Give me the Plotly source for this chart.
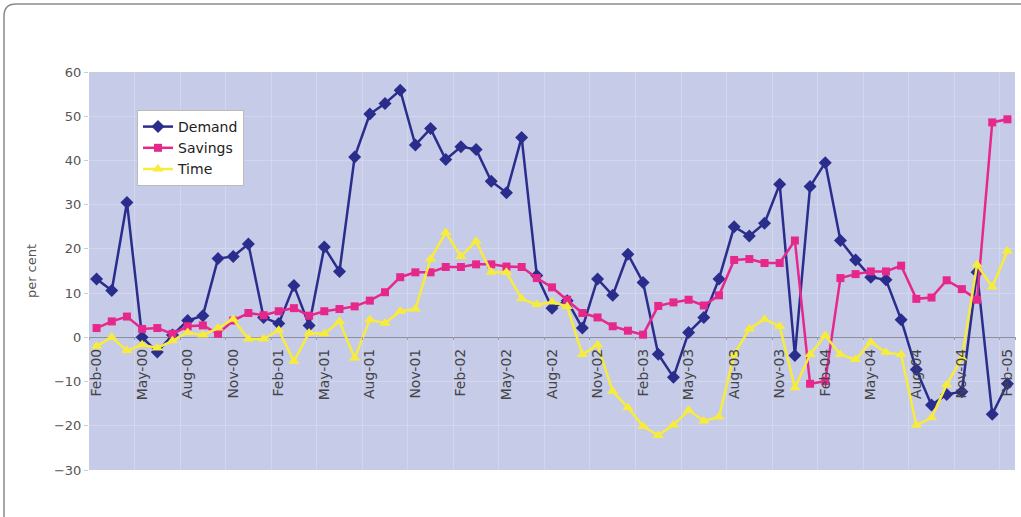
import plotly.graph_objects as go

# Monthly labels, Feb-00 .. Feb-05
months = [
    "Feb-00", "Mar-00", "Apr-00", "May-00", "Jun-00", "Jul-00", "Aug-00", "Sep-00", "Oct-00", "Nov-00", "Dec-00",
    "Jan-01", "Feb-01", "Mar-01", "Apr-01", "May-01", "Jun-01", "Jul-01", "Aug-01", "Sep-01", "Oct-01", "Nov-01", "Dec-01",
    "Jan-02", "Feb-02", "Mar-02", "Apr-02", "May-02", "Jun-02", "Jul-02", "Aug-02", "Sep-02", "Oct-02", "Nov-02", "Dec-02",
    "Jan-03", "Feb-03", "Mar-03", "Apr-03", "May-03", "Jun-03", "Jul-03", "Aug-03", "Sep-03", "Oct-03", "Nov-03", "Dec-03",
    "Jan-04", "Feb-04", "Mar-04", "Apr-04", "May-04", "Jun-04", "Jul-04", "Aug-04", "Sep-04", "Oct-04", "Nov-04", "Dec-04",
    "Jan-05", "Feb-05",
]

demand = [
    13.2, 10.6, 30.5, 0.0, -3.3, 0.5, 3.8, 4.9, 17.8, 18.3, 21.1,
    4.5, 3.1, 11.7, 2.7, 20.4, 14.9, 40.8, 50.5, 52.9, 55.9, 43.5, 47.2,
    40.2, 43.1, 42.5, 35.3, 32.7, 45.2, 14.0, 6.6, 8.3, 2.1, 13.2, 9.5,
    18.8, 12.4, -3.8, -9.0, 1.1, 4.5, 13.2, 25.0, 22.9, 25.8, 34.6, -4.1,
    34.1, 39.5, 21.9, 17.5, 13.6, 13.0, 4.0, -7.3, -15.3, -12.9, -12.3, 14.7,
    -17.4, -10.5,
]

savings = [
    2.1, 3.6, 4.7, 1.9, 2.1, 0.8, 2.5, 2.7, 0.8, 3.8, 5.5,
    5.0, 5.9, 6.6, 4.9, 5.9, 6.4, 7.0, 8.3, 10.2, 13.6, 14.7, 14.7,
    15.9, 15.9, 16.5, 16.5, 16.0, 15.9, 13.4, 11.3, 8.5, 5.5, 4.5, 2.5,
    1.5, 0.6, 7.1, 7.9, 8.5, 7.2, 9.5, 17.5, 17.7, 16.8, 16.8, 21.9,
    -10.5, -9.9, 13.4, 14.3, 14.9, 14.9, 16.2, 8.7, 9.0, 12.9, 10.9, 8.5,
    48.6, 49.3,
]

time_ = [
    -2.0, 0.0, -3.0, -1.7, -2.4, -0.8, 1.1, 0.5, 2.1, 4.1, -0.4,
    -0.4, 1.6, -5.4, 1.0, 0.8, 3.6, -4.7, 4.0, 3.2, 5.9, 6.4, 17.7,
    23.7, 18.3, 21.7, 14.7, 14.7, 8.7, 7.4, 8.0, 7.0, -3.9, -1.7, -12.2,
    -15.9, -20.1, -22.2, -19.8, -16.5, -18.9, -18.0, -3.9, 1.9, 4.1, 2.5, -11.4,
    -3.9, 0.4, -3.9, -5.0, -1.1, -3.4, -3.9, -19.9, -18.2, -10.7, -4.7, 16.4,
    11.4, 19.5,
]

tick_labels = months[::3]

fig = go.Figure()
fig.add_trace(go.Scatter(
    x=months, y=demand, name="Demand", mode="lines+markers",
    line=dict(color="#2a2d8c", width=2.5),
    marker=dict(symbol="diamond", size=10, color="#2a2d8c"),
))
fig.add_trace(go.Scatter(
    x=months, y=savings, name="Savings", mode="lines+markers",
    line=dict(color="#e6288c", width=2.5),
    marker=dict(symbol="square", size=8, color="#e6288c"),
))
fig.add_trace(go.Scatter(
    x=months, y=time_, name="Time", mode="lines+markers",
    line=dict(color="#f7ec3c", width=2.5),
    marker=dict(symbol="triangle-up", size=10, color="#f7ec3c"),
))

# plot-area geometry (pixels) used for the outer frame
L, R, T, B = 89, 6, 72, 47
W, H = 1021, 517
pw, ph = W - L - R, H - T - B


def px(x):
    return (x - L) / pw


def py(y):
    return (H - B - y) / ph


# frame: top edge and left edge joined by a rounded corner, running off the page
fx, fy, rad = 4, 4, 12
frame_line = dict(color="#8a8a8a", width=1.5)
frame = [
    dict(type="line", xref="paper", yref="paper",
         x0=px(fx + rad), y0=py(fy), x1=px(W), y1=py(fy), line=frame_line),
    dict(type="line", xref="paper", yref="paper",
         x0=px(fx), y0=py(fy + rad), x1=px(fx), y1=py(H), line=frame_line),
    dict(type="path", xref="paper", yref="paper", line=frame_line,
         path=f"M {px(fx)},{py(fy + rad)} Q {px(fx)},{py(fy)} {px(fx + rad)},{py(fy)}"),
]

fig.update_layout(
    width=W, height=H,
    margin=dict(l=L, r=R, t=T, b=B, autoexpand=False),
    paper_bgcolor="white",
    plot_bgcolor="#c6cbe8",
    font=dict(family="DejaVu Sans", size=13, color="#555555"),
    showlegend=True,
    legend=dict(
        x=px(137), y=py(110), xanchor="left", yanchor="top",
        bgcolor="white", bordercolor="#bbbbbb", borderwidth=1,
        font=dict(size=14, color="#222222"),
        tracegroupgap=0, itemwidth=30,
    ),
    shapes=frame,
    xaxis=dict(
        type="category", categoryorder="array", categoryarray=months,
        tickmode="array", tickvals=tick_labels, ticktext=tick_labels,
        tickangle=-90, tickson="boundaries",
        showgrid=True, gridcolor="#d2d6ee", gridwidth=1,
        ticks="outside", ticklen=3, tickcolor="#9a9aae",
        ticklabelstandoff=9,
        anchor="free", position=py(336), showline=False,
        range=[-0.5, 60.5], tickfont=dict(size=14, color="#444444"),
    ),
    yaxis=dict(
        range=[-30, 60], dtick=10, tick0=0,
        showgrid=True, gridcolor="#d2d6ee", gridwidth=1,
        zeroline=True, zerolinecolor="#8e8e9e", zerolinewidth=1,
        ticks="outside", ticklen=4, tickcolor="#cccccc",
        tickfont=dict(size=13, color="#555555"),
        title=dict(text="per cent", font=dict(size=13, color="#555555"), standoff=14),
    ),
)

fig.write_html("out.html")
